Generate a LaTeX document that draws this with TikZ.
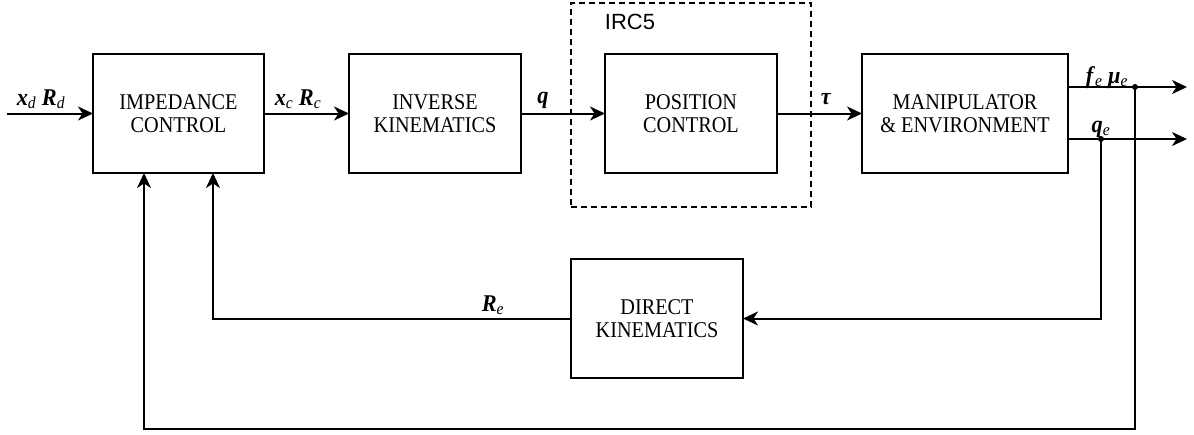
\documentclass[tikz,border=0pt]{standalone}
\usepackage{fontspec}
\setmainfont{Liberation Serif}
\newfontfamily\boxfont[FakeStretch=0.9]{Liberation Serif}
\newfontfamily\lblfont[FakeStretch=0.93]{Liberation Serif}
\newfontfamily\ircfont{Liberation Sans}
\usetikzlibrary{arrows.meta}
\newcommand{\bv}[1]{\textbf{\textit{#1}}}
\newcommand{\sbs}[1]{\textsubscript{\textit{#1}}}
\begin{document}
\begin{tikzpicture}[x=1pt,y=-1pt,
  blk/.style={draw,line width=2pt,minimum width=172pt,minimum height=119pt,inner sep=0pt,outer sep=0pt,align=center,font=\boxfont\fontsize{22.5}{23}\selectfont},
  con/.style={line width=2pt},
  arr/.style={con,-{Stealth[length=15pt,width=14pt,inset=4.5pt]}},
  lbl/.style={font=\lblfont\fontsize{24}{25}\selectfont,inner sep=0pt,anchor=base},
  dot/.style={circle,fill,inner sep=0pt,minimum size=6pt}]
\useasboundingbox (0,0) rectangle (1194,434);
\node[blk,minimum width=171pt] (imp) at (178.5,113.5) {IMPEDANCE\\CONTROL};
\node[blk] (inv) at (435,113.5) {INVERSE\\KINEMATICS};
\node[blk] (pos) at (691,113.5) {POSITION\\CONTROL};
\node[blk,minimum width=206pt] (man) at (965,113.5) {MANIPULATOR\\\& ENVIRONMENT};
\node[blk] (dk) at (657,318.5) {DIRECT\\KINEMATICS};
\node[draw,line width=1.5pt,dash pattern=on 6pt off 4pt,minimum width=240pt,minimum height=204pt,inner sep=0pt] (irc) at (691,105) {};
\node[font=\ircfont\fontsize{22}{23}\selectfont,inner sep=0pt] (irclbl) at (630,22) {IRC5};
\coordinate (in) at (7,113.5);
\coordinate (o1) at (1187,87);
\coordinate (o2) at (1187,139);
\node[dot] (d1) at (1135,87) {};
\node[dot] (d2) at (1101,139) {};
\coordinate (c1) at (1135,429);
\coordinate (c2) at (144,429);
\coordinate (c3) at (1101,318.5);
\coordinate (c4) at (213,318.5);
\draw[arr] (in) -- (imp.west);
\draw[arr] (imp.east) -- (inv.west);
\draw[arr] (inv.east) -- (pos.west);
\draw[arr] (pos.east) -- (man.west);
\draw[arr] (man.east |- o1) -- (o1);
\draw[arr] (man.east |- o2) -- (o2);
\draw[arr] (d1.center) -- (c1) -- (c2) -- (c2 |- imp.south);
\draw[arr] (d2.center) -- (c3) -- (dk.east);
\draw[arr] (dk.west) -- (c4) -- (c4 |- imp.south);
\node[lbl] (lxd) at (41,105) {\bv{x}\sbs{d} \bv{R}\sbs{d}};
\node[lbl] (lxc) at (298,105) {\bv{x}\sbs{c} \bv{R}\sbs{c}};
\node[lbl] (lq) at (543,103) {\bv{q}};
\node[lbl] (ltau) at (826,104) {\bv{τ}};
\node[lbl] (lfe) at (1107,83) {\bv{f}\sbs{e} \bv{μ}\sbs{e}};
\node[lbl] (lqe) at (1101,132) {\bv{q}\sbs{e}};
\node[lbl] (lre) at (493,311) {\bv{R}\sbs{e}};
\end{tikzpicture}
\end{document}
